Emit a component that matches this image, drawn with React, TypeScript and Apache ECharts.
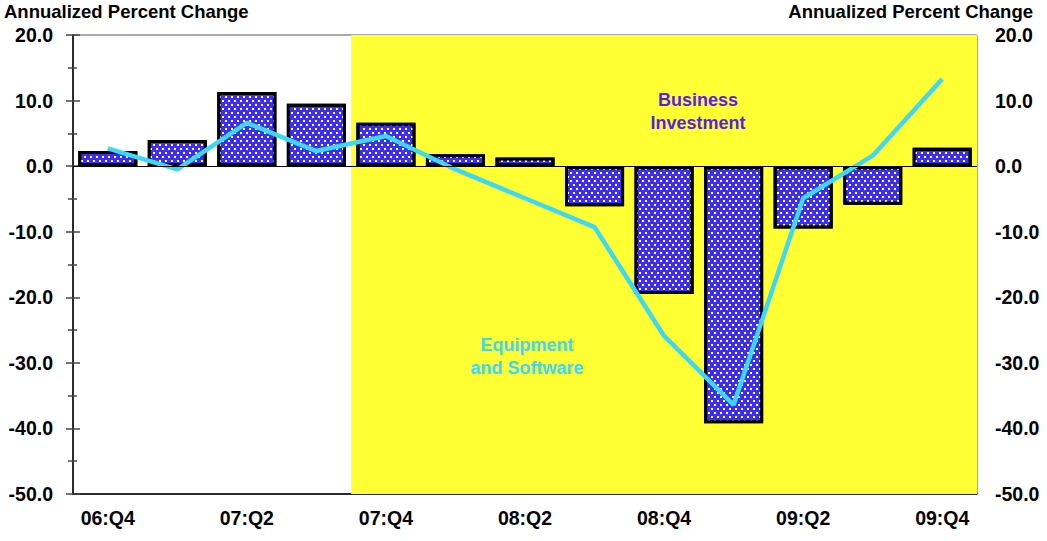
import React, { useEffect, useRef } from "react";
import * as echarts from "echarts";

// Quarters on the horizontal axis
const quarters = [
  "06:Q4", "07:Q1", "07:Q2", "07:Q3", "07:Q4", "08:Q1", "08:Q2",
  "08:Q3", "08:Q4", "09:Q1", "09:Q2", "09:Q3", "09:Q4",
];

// Business investment, annualized percent change (bars)
const businessInvestment = [
  2.3, 4.0, 11.3, 9.5, 6.6, 1.8, 1.3, -6.1, -19.5, -39.2, -9.5, -5.9, 2.8,
];

// Equipment and software, annualized percent change (line)
const equipmentSoftware = [
  2.7, -0.5, 6.6, 2.3, 4.6, -0.5, -4.9, -9.3, -25.9, -36.4, -4.9, 1.6, 13.3,
];

// Shaded recession period begins with this quarter and runs to the end
const recessionStart = "07:Q4";

const yMin = -50;
const yMax = 20;
const yStep = 10;

const FONT = "'Liberation Sans', Arial, sans-serif";

export default function App() {
  const ref = useRef<HTMLDivElement>(null);

  useEffect(() => {
    if (!ref.current) return;
    const chart = echarts.init(ref.current, undefined, { renderer: "svg" });

    const shadeFrom = quarters.indexOf(recessionStart) - 0.5;
    const shadeTo = quarters.length - 0.5;

    const valueAxisBase = {
      type: "value" as const,
      min: yMin,
      max: yMax,
      interval: yStep,
      splitLine: { show: false },
    };

    const labelFont = {
      color: "#000",
      fontFamily: FONT,
      fontWeight: "bold" as const,
      fontSize: 19.5,
    };

    chart.setOption({
      animation: false,
      backgroundColor: "#ffffff",
      grid: {
        left: 73,
        right: 70,
        top: 35,
        bottom: 47,
        show: true,
        borderColor: "#555",
        borderWidth: 1,
        backgroundColor: "transparent",
      },
      xAxis: [
        {
          type: "category",
          data: quarters,
          axisLine: { onZero: false, lineStyle: { color: "#000", width: 1.5 } },
          axisTick: {
            alignWithLabel: true,
            interval: 0,
            length: 9,
            lineStyle: { color: "#333", width: 1.5 },
          },
          axisLabel: { ...labelFont, interval: 1, margin: 14 },
        },
        {
          type: "value",
          min: -0.5,
          max: quarters.length - 0.5,
          show: false,
          axisLine: { onZero: false },
        },
      ],
      yAxis: [
        {
          ...valueAxisBase,
          position: "left",
          axisLine: { show: true, onZero: false, lineStyle: { color: "#000", width: 1.5 } },
          axisTick: { show: true, length: 7, lineStyle: { color: "#444", width: 1.5 } },
          minorTick: { show: true, splitNumber: 2, length: 5, lineStyle: { color: "#444", width: 1.5 } },
          axisLabel: { ...labelFont, margin: 20, formatter: (v: number) => v.toFixed(1) },
        },
        {
          ...valueAxisBase,
          position: "right",
          axisLine: { show: false, onZero: false },
          axisTick: { show: false },
          axisLabel: { ...labelFont, margin: 18, formatter: (v: number) => v.toFixed(1) },
        },
        {
          // inner half of the left-axis ticks, so they cross the axis line
          ...valueAxisBase,
          position: "left",
          axisLine: { show: false, onZero: false },
          axisTick: { show: true, inside: true, length: 7, lineStyle: { color: "#444", width: 1.5 } },
          minorTick: { show: true, splitNumber: 2, length: 4, lineStyle: { color: "#444", width: 1.5 } },
          axisLabel: { show: false },
        },
      ],
      series: [
        {
          name: "Recession",
          type: "line",
          xAxisIndex: 1,
          yAxisIndex: 0,
          data: [
            [shadeFrom, yMin],
            [shadeTo, yMin],
          ],
          showSymbol: false,
          lineStyle: { opacity: 0 },
          silent: true,
          z: 1,
          markArea: {
            silent: true,
            itemStyle: { color: "#ffff33", opacity: 1 },
            data: [[{ xAxis: shadeFrom, yAxis: yMax }, { xAxis: shadeTo, yAxis: yMin }]],
          },
          markLine: {
            silent: true,
            symbol: "none",
            label: { show: false },
            lineStyle: { color: "#000", width: 1.2, type: "solid" },
            data: [[{ xAxis: -0.5, yAxis: 0 }, { xAxis: shadeTo, yAxis: 0 }]],
          },
        },
        {
          name: "Business Investment",
          type: "bar",
          data: businessInvestment,
          barWidth: "85%",
          z: 2,
          itemStyle: {
            color: "#3d2ef0",
            borderColor: "#000",
            borderWidth: 3,
            decal: {
              symbol: "rect",
              symbolSize: 1,
              color: "#ffffff",
              dashArrayX: [
                [2, 4],
                [0, 3, 2, 1],
              ],
              dashArrayY: [2, 2],
              rotation: 0,
            },
          },
        },
        {
          name: "Equipment and Software",
          type: "line",
          data: equipmentSoftware,
          showSymbol: false,
          z: 3,
          lineStyle: { color: "#3cd8f5", width: 4.5 },
        },
      ],
      graphic: [
        {
          type: "text",
          left: 4,
          top: 2,
          z: 10,
          style: {
            text: "Annualized Percent Change",
            fill: "#000",
            font: `bold 18.5px ${FONT}`,
          },
        },
        {
          type: "text",
          right: 14,
          top: 2,
          z: 10,
          style: {
            text: "Annualized Percent Change",
            fill: "#000",
            font: `bold 18.5px ${FONT}`,
          },
        },
        {
          type: "text",
          x: 698,
          y: 88,
          z: 10,
          style: {
            text: "Business\nInvestment",
            fill: "#5a1ee6",
            font: `bold 18px ${FONT}`,
            align: "center",
            lineHeight: 23,
          },
        },
        {
          type: "text",
          x: 527,
          y: 333,
          z: 10,
          style: {
            text: "Equipment\nand Software",
            fill: "#3cd8f5",
            font: `bold 18px ${FONT}`,
            align: "center",
            lineHeight: 23,
          },
        },
      ],
    });

    return () => chart.dispose();
  }, []);

  return (
    <div
      ref={ref}
      style={{ position: "absolute", left: 0, top: 0, width: 1047, height: 541 }}
    />
  );
}
